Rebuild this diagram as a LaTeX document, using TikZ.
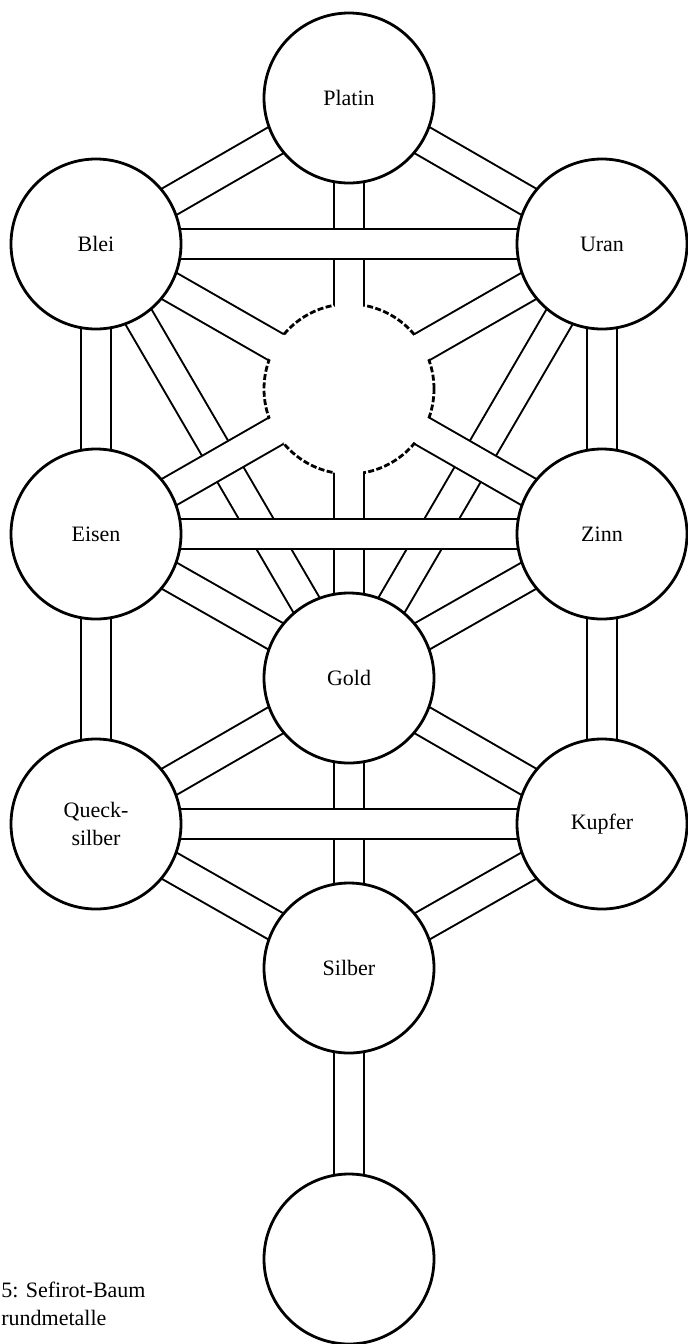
\documentclass[tikz,border=0pt]{standalone}
\usepackage{fontspec}
\setmainfont{Liberation Serif}
\usetikzlibrary{calc}

% 背景图层：通道画在圆的下面
\pgfdeclarelayer{hinten}
\pgfsetlayers{hinten,main}

\begin{document}
\begin{tikzpicture}[x=0.5pt, y=-0.5pt,
    kreis/.style={circle, draw, line width=1.4pt, fill=white, minimum size=85pt,
                  inner sep=0pt, align=center, font=\fontsize{11}{14}\selectfont},
    leerkreis/.style={kreis, dash pattern=on 3pt off 1.2pt},
    kanal/.style={line width=1pt, double=white, double distance=14pt},
    mund/.style={white, line width=13.6pt},
    unterschrift/.style={anchor=base west, inner sep=0pt, font=\fontsize{11}{13}\selectfont}]

    % --- 定义变量 ---
    % 三列的 x 坐标（单位约为像素）
    \def\xl{96}
    \def\xm{349}
    \def\xr{602}

    % 固定画布大小
    \useasboundingbox (0,0) rectangle (688,1344);

    % --- 1. 圆（十一个） ---
    \node[kreis] (platin) at (\xm, 98) {Platin};
    \node[kreis] (blei) at (\xl, 244) {Blei};
    \node[kreis] (uran) at (\xr, 244) {Uran};
    % 中间虚线圆，没有文字
    \node[leerkreis] (leer) at (\xm, 389) {};
    \node[kreis] (eisen) at (\xl, 534) {Eisen};
    \node[kreis] (zinn) at (\xr, 534) {Zinn};
    \node[kreis] (gold) at (\xm, 678) {Gold};
    \node[kreis] (queck) at (\xl, 824) {Queck-\\silber};
    \node[kreis] (kupfer) at (\xr, 824) {Kupfer};
    \node[kreis] (silber) at (\xm, 968) {Silber};
    \node[kreis] (unten) at (\xm, 1259) {};

    % --- 2. 通道（双线），后画的压在前面的上面 ---
    \begin{pgfonlayer}{hinten}
        % (a) 不交叉的通道
        \draw[kanal] (platin.center) -- (blei.center);
        \draw[kanal] (platin.center) -- (uran.center);
        \draw[kanal] (blei.center) -- (leer.center);
        \draw[kanal] (uran.center) -- (leer.center);
        \draw[kanal] (blei.center) -- (eisen.center);
        \draw[kanal] (uran.center) -- (zinn.center);
        \draw[kanal] (eisen.center) -- (gold.center);
        \draw[kanal] (zinn.center) -- (gold.center);
        \draw[kanal] (eisen.center) -- (queck.center);
        \draw[kanal] (zinn.center) -- (kupfer.center);
        \draw[kanal] (gold.center) -- (queck.center);
        \draw[kanal] (gold.center) -- (kupfer.center);
        \draw[kanal] (queck.center) -- (silber.center);
        \draw[kanal] (kupfer.center) -- (silber.center);
        \draw[kanal] (silber.center) -- (unten.center);

        % (b) 陡的斜通道，在最下面
        \draw[kanal] (blei.center) -- (gold.center);
        \draw[kanal] (uran.center) -- (gold.center);

        % (c) 从下面两侧进入虚线圆的通道
        \draw[kanal] (eisen.center) -- (leer.center);
        \draw[kanal] (zinn.center) -- (leer.center);

        % (d) 中间竖直通道
        \draw[kanal] (platin.center) -- (leer.center);
        \draw[kanal] (leer.center) -- (gold.center);
        \draw[kanal] (gold.center) -- (silber.center);

        % (e) 水平通道，在最上面
        \draw[kanal] (blei.center) -- (uran.center);
        \draw[kanal] (eisen.center) -- (zinn.center);
        \draw[kanal] (queck.center) -- (kupfer.center);
    \end{pgfonlayer}

    % --- 3. 虚线圆的入口 ---
    % 用白线盖掉通道口处的虚线
    \draw[mund] (leer.center) -- ($(leer.center)!50pt!(platin.center)$);
    \draw[mund] (leer.center) -- ($(leer.center)!50pt!(blei.center)$);
    \draw[mund] (leer.center) -- ($(leer.center)!50pt!(uran.center)$);
    \draw[mund] (leer.center) -- ($(leer.center)!50pt!(eisen.center)$);
    \draw[mund] (leer.center) -- ($(leer.center)!50pt!(zinn.center)$);
    \draw[mund] (leer.center) -- ($(leer.center)!50pt!(gold.center)$);

    % --- 4. 左下角的说明文字 ---
    \node[unterschrift] (zeile1) at (1, 1297) {5: Sefirot-Baum};
    \node[unterschrift] (zeile2) at (1, 1325) {rundmetalle};

\end{tikzpicture}
\end{document}
